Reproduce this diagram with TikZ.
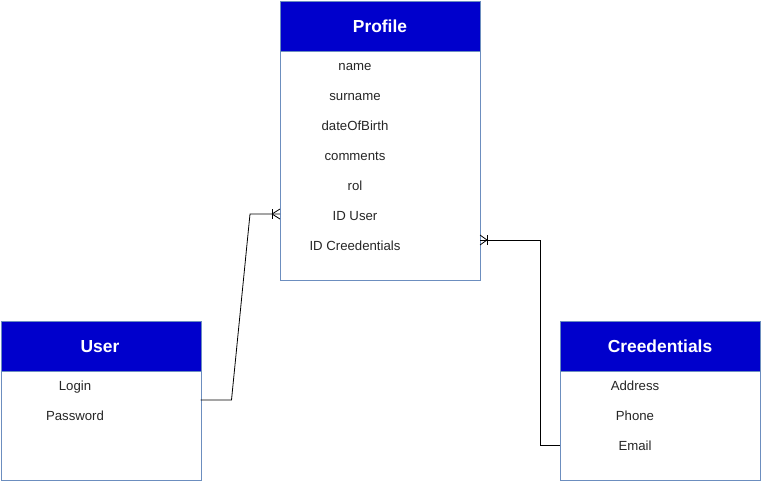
\documentclass[tikz,border=0pt]{standalone}
\usepackage{fontspec}
\setmainfont{Liberation Sans}
\definecolor{headblue}{HTML}{0000CC}
\definecolor{boxline}{HTML}{6C8EBF}
\tikzset{
  entitybox/.style={draw=boxline, fill=white, minimum width=200pt, inner sep=0pt, anchor=north west},
  entityhead/.style={draw=boxline, fill=headblue, minimum width=200pt, minimum height=50pt, inner sep=0pt, anchor=north west},
  title/.style={text=white, font=\bfseries\fontsize{17.4}{20}\selectfont, inner sep=0pt, anchor=base},
  field/.style={font=\fontsize{13.2}{15}\selectfont, inner sep=0pt, text=black!85, anchor=base},
  relation/.style={draw=black, line width=0.8pt}
}
\begin{document}
\begin{tikzpicture}[x=1pt,y=-1pt]
  \useasboundingbox (0,0) rectangle (761,482);
  % Profile
  \node[entitybox, minimum height=230pt] (profilebody) at (280,50) {};
  \node[entityhead] (profilehead) at (280,0.5) {};
  \node[title] (profile) at (380,32.5) {Profile};
  \node[field] (name) at (355,70) {name};
  \node[field] (surname) at (355,100) {surname};
  \node[field] (birth) at (355,130) {dateOfBirth};
  \node[field] (comments) at (355,160) {comments};
  \node[field] (rol) at (355,190) {rol};
  \node[field] (iduser) at (355,220) {ID User};
  \node[field] (idcred) at (355,250) {ID Creedentials};
  % User
  \node[entitybox, minimum height=110pt] (userbody) at (0.5,370) {};
  \node[entityhead] (userhead) at (0.5,320.5) {};
  \node[title] (user) at (100,352.5) {User};
  \node[field] (login) at (75,390) {Login};
  \node[field] (password) at (75,420) {Password};
  % Creedentials
  \node[entitybox, minimum height=110pt] (credbody) at (560,370) {};
  \node[entityhead] (credhead) at (560,320.5) {};
  \node[title] (cred) at (660,352.5) {Creedentials};
  \node[field] (address) at (635,390) {Address};
  \node[field] (phone) at (635,420) {Phone};
  \node[field] (email) at (635,450) {Email};
  % Anschlusspunkte
  \coordinate (pu) at (280,214);
  \coordinate (up) at (200.5,400);
  \coordinate (pc) at (480,240);
  \coordinate (cp) at (560,445);
  % Beziehungen
  \draw[relation] (up) -- ++(31,0) -- ([xshift=-30]pu) -- (pu);
  \draw[relation] ([xshift=-8]pu) ++(0,-5) -- ++(0,10);
  \draw[relation] ([xshift=-8]pu) -- ([yshift=-5]pu);
  \draw[relation] ([xshift=-8]pu) -- ([yshift=5]pu);
  \draw[relation] (cp) -- ++(-20,0) |- (pc);
  \draw[relation] ([xshift=7]pc) ++(0,-5) -- ++(0,10);
  \draw[relation] ([xshift=7]pc) -- ([yshift=-5]pc);
  \draw[relation] ([xshift=7]pc) -- ([yshift=5]pc);
\end{tikzpicture}
\end{document}
